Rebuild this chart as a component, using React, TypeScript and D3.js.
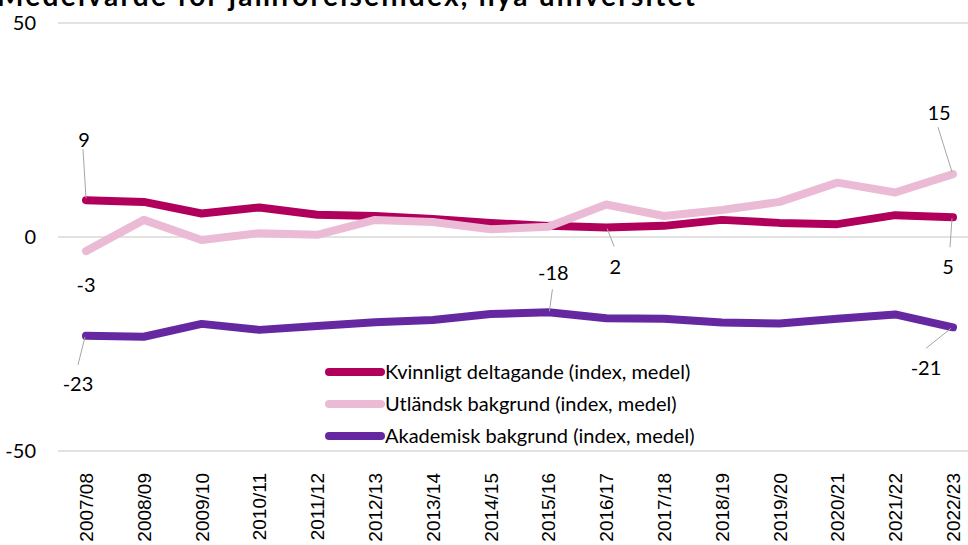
import React, { useEffect, useRef } from 'react';
import * as d3 from 'd3';

const years = ['2007/08', '2008/09', '2009/10', '2010/11', '2011/12', '2012/13', '2013/14', '2014/15',
  '2015/16', '2016/17', '2017/18', '2018/19', '2019/20', '2020/21', '2021/22', '2022/23'];

const kvinnligt = [8.6, 8.2, 5.5, 6.9, 5.2, 4.9, 4.2, 3.3, 2.6, 2.2, 2.6, 4.0, 3.3, 3.0, 5.1, 4.6];
const utlandsk = [-3.3, 4.0, -0.7, 0.9, 0.5, 4.0, 3.5, 1.8, 2.4, 7.6, 4.9, 6.3, 8.2, 12.7, 10.4, 14.7];
const akademisk = [-23.1, -23.3, -20.3, -21.7, -20.8, -19.9, -19.4, -18.0, -17.6, -19.0, -19.1, -20.0, -20.2, -19.1, -18.1, -21.1];

const yTicks = [50, 0, -50];

const seriesList = [
  { name: 'Kvinnligt deltagande (index, medel)', values: kvinnligt, color: '#B0005C' },
  { name: 'Utländsk bakgrund (index, medel)', values: utlandsk, color: '#EBBAD5' },
  { name: 'Akademisk bakgrund (index, medel)', values: akademisk, color: '#6528A0' },
];

// series index, point index, label, label offset, leader start/end offsets
const annotations = [
  { s: 0, i: 0, text: '9', dx: -2, dy: -53, lead: [-3, -51, 0, -2] },
  { s: 1, i: 0, text: '-3', dx: 0, dy: 41, lead: null },
  { s: 2, i: 0, text: '-23', dx: -8, dy: 55, lead: [-8, 29, -1, 1] },
  { s: 2, i: 8, text: '-18', dx: 5, dy: -32, lead: [4, -23, 1, -1] },
  { s: 0, i: 9, text: '2', dx: 9, dy: 46, lead: [8, 19, 1, 1] },
  { s: 0, i: 15, text: '5', dx: -5, dy: 57, lead: [-3, 30, -1, 1] },
  { s: 1, i: 15, text: '15', dx: -14, dy: -54, lead: [-15, -47, -1, -2] },
  { s: 2, i: 15, text: '-21', dx: -27, dy: 48, lead: [-27, 21, -2, 1] },
];

const W = 968;
const H = 545;
const font = 'Lato, "Open Sans", sans-serif';

const App: React.FC = () => {
  const svgRef = useRef<SVGSVGElement>(null);

  useEffect(() => {
    if (!svgRef.current) return;
    const svg = d3.select(svgRef.current);
    svg.selectAll('*').remove();

    const x = d3.scalePoint<string>().domain(years).range([86, 953]);
    const y = d3.scaleLinear().domain([-50, 50]).range([451, 23]);

    // Title (cut at top)
    svg.append('text')
      .attr('x', -3)
      .attr('y', 6)
      .attr('font-family', font)
      .attr('font-size', 28)
      .attr('font-weight', 'bold')
      .attr('textLength', 698)
      .attr('fill', '#000')
      .text('Medelvärde för jämförelseindex, nya universitet');

    // Grid
    svg.selectAll('line.grid')
      .data(yTicks)
      .enter()
      .append('line')
      .attr('x1', 58)
      .attr('x2', W)
      .attr('y1', d => y(d))
      .attr('y2', d => y(d))
      .attr('stroke', '#D9D9D9')
      .attr('stroke-width', 1.5);

    svg.selectAll('text.ytick')
      .data(yTicks)
      .enter()
      .append('text')
      .attr('x', 36)
      .attr('y', d => y(d) + 7)
      .attr('text-anchor', 'end')
      .attr('font-family', font)
      .attr('font-size', 20)
      .attr('fill', '#000')
      .text(d => String(d));

    // X labels
    svg.selectAll('text.xtick')
      .data(years)
      .enter()
      .append('text')
      .attr('transform', d => `translate(${(x(d) || 0) + 7},473) rotate(-90)`)
      .attr('text-anchor', 'end')
      .attr('font-family', '"Liberation Sans", Arial, sans-serif')
      .attr('font-size', 19)
      .attr('fill', '#000')
      .text(d => d);

    // Lines
    const line = d3.line<number>()
      .x((_, i) => x(years[i]) || 0)
      .y(d => y(d));

    seriesList.forEach(s => {
      svg.append('path')
        .datum(s.values)
        .attr('fill', 'none')
        .attr('stroke', s.color)
        .attr('stroke-width', 8)
        .attr('stroke-linecap', 'round')
        .attr('stroke-linejoin', 'round')
        .attr('d', line);
    });

    // Annotations
    annotations.forEach(a => {
      const px = x(years[a.i]) || 0;
      const py = y(seriesList[a.s].values[a.i]);
      if (a.lead) {
        svg.append('line')
          .attr('x1', px + a.lead[0])
          .attr('y1', py + a.lead[1])
          .attr('x2', px + a.lead[2])
          .attr('y2', py + a.lead[3])
          .attr('stroke', '#A6A6A6')
          .attr('stroke-width', 1);
      }
      svg.append('text')
        .attr('x', px + a.dx)
        .attr('y', py + a.dy)
        .attr('text-anchor', 'middle')
        .attr('font-family', font)
        .attr('font-size', 20)
        .attr('fill', '#000')
        .text(a.text);
    });

    // Legend
    const legend = svg.append('g').attr('transform', 'translate(329,372)');
    seriesList.forEach((s, i) => {
      const g = legend.append('g').attr('transform', `translate(0,${i * 32})`);
      g.append('line')
        .attr('x1', 0)
        .attr('x2', 52)
        .attr('stroke', s.color)
        .attr('stroke-width', 8)
        .attr('stroke-linecap', 'round');
      g.append('text')
        .attr('x', 56)
        .attr('y', 7)
        .attr('font-family', font)
        .attr('font-size', 20)
        .attr('fill', '#000')
        .text(s.name);
    });
  }, []);

  return (
    <svg
      ref={svgRef}
      width={W}
      height={H}
      style={{ position: 'absolute', left: 0, top: 0, background: '#fff' }}
    />
  );
};

export default App;
